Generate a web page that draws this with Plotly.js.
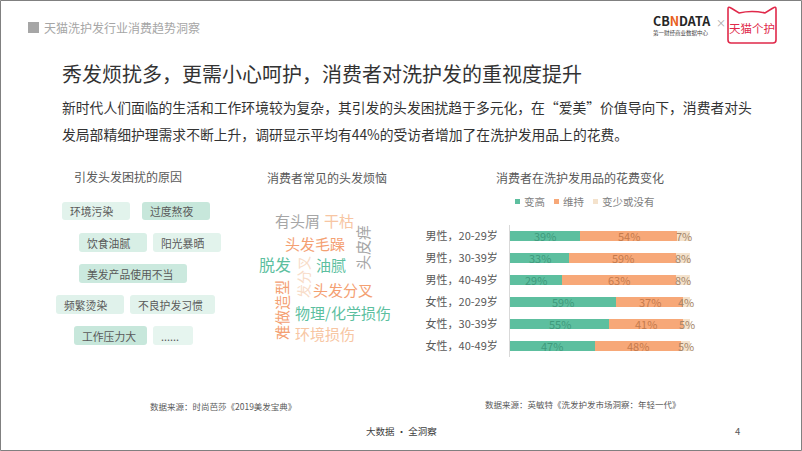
<!DOCTYPE html>
<html>
<head>
<meta charset="utf-8">
<script src="https://cdn.plot.ly/plotly-3.0.1.min.js"></script>
<style>html,body{margin:0;padding:0;background:#fff;}#chart{width:802px;height:451px;}</style>
</head>
<body>
<div id="chart"></div>
<script>
// ---- data ----
const categories = ['男性，20-29岁','男性，30-39岁','男性，40-49岁','女性，20-29岁','女性，30-39岁','女性，40-49岁'];
const seriesNames = ['变高','维持','变少或没有'];
const higher   = [39, 33, 29, 59, 55, 47];
const same     = [54, 59, 63, 37, 41, 48];
const lowerNone= [7, 8, 8, 4, 5, 5];

const reasonTags = ['环境污染','过度熬夜','饮食油腻','阳光暴晒','美发产品使用不当','频繁烫染','不良护发习惯','工作压力大','......'];
const troubleWords = ['有头屑','干枯','头发毛躁','脱发','油腻','头皮痒','发分叉','头发分叉','难做造型','物理/化学损伤','环境损伤'];

// ---- styling ----
const W = 802, H = 451;
const FONT = '"Noto Sans CJK SC","Microsoft YaHei",sans-serif';
const seriesColors = ['#5dbf9f', '#f7a878', '#f4e2cc'];
const labelColors = ['#3f9a7c', '#c47a4c', '#a58669'];
const px = x => x / W;
const py = y => 1 - y / H;

const traces = [higher, same, lowerNone].map((vals, i) => ({
  type: 'bar', orientation: 'h', name: seriesNames[i],
  x: vals, y: categories,
  marker: {color: seriesColors[i], line: {width: 0}},
  hoverinfo: 'none', showlegend: false
}));

const annotations = [];
const shapes = [];

// bar value labels
categories.forEach((c, r) => {
  let cum = 0;
  [higher, same, lowerNone].forEach((vals, i) => {
    const v = vals[r];
    annotations.push({x: cum + v / 2, y: c, xref: 'x', yref: 'y', text: v + '%', showarrow: false,
      font: {family: FONT, size: 11, color: labelColors[i]}});
    cum += v;
  });
});

function txt(x, y, text, size, color, opts) {
  annotations.push(Object.assign({x: px(x), y: py(y), xref: 'paper', yref: 'paper', text: text,
    showarrow: false, xanchor: 'left', yanchor: 'middle',
    font: {family: FONT, size: size, color: color}}, opts || {}));
}
function rrect(x0, y0, x1, y1, r, fill, line) {
  const X = px, Y = py;
  const p = `M${X(x0 + r)},${Y(y0)} L${X(x1 - r)},${Y(y0)} Q${X(x1)},${Y(y0)} ${X(x1)},${Y(y0 + r)} ` +
    `L${X(x1)},${Y(y1 - r)} Q${X(x1)},${Y(y1)} ${X(x1 - r)},${Y(y1)} L${X(x0 + r)},${Y(y1)} ` +
    `Q${X(x0)},${Y(y1)} ${X(x0)},${Y(y1 - r)} L${X(x0)},${Y(y0 + r)} Q${X(x0)},${Y(y0)} ${X(x0 + r)},${Y(y0)} Z`;
  shapes.push({type: 'path', xref: 'paper', yref: 'paper', path: p, fillcolor: fill,
    line: line ? line : {width: 0}, layer: 'below'});
}

// page border
shapes.push({type: 'rect', xref: 'paper', yref: 'paper', x0: px(0.5), x1: px(801.5), y0: py(0.5), y1: py(450.5),
  line: {color: '#808080', width: 1}, fillcolor: 'rgba(0,0,0,0)'});

// header
shapes.push({type: 'rect', xref: 'paper', yref: 'paper', x0: px(28), x1: px(39), y0: py(22), y1: py(33),
  fillcolor: '#a6a6a6', line: {width: 0}});
txt(42, 27.5, '天猫洗护发行业消费趋势洞察', 12, '#a6a6a6');

// logos
txt(651, 20.5, '<b>CB<span style="color:#e8601c">N</span>DATA</b>', 12.5, '#262626');
txt(651, 33.5, '第一财经商业数据中心', 5.5, '#404040');
txt(714, 22, '×', 10, '#a6a6a6');
(function () {
  const X = px, Y = py;
  const p = `M${X(728)},${Y(40)} L${X(728)},${Y(9)} Q${X(728)},${Y(6)} ${X(731)},${Y(8)} L${X(739)},${Y(13)} ` +
    `Q${X(752)},${Y(10)} ${X(765)},${Y(13)} L${X(773)},${Y(8)} Q${X(776)},${Y(6)} ${X(776)},${Y(9)} ` +
    `L${X(776)},${Y(40)} Q${X(776)},${Y(43)} ${X(773)},${Y(43)} L${X(731)},${Y(43)} Q${X(728)},${Y(43)} ${X(728)},${Y(40)} Z`;
  shapes.push({type: 'path', xref: 'paper', yref: 'paper', path: p, fillcolor: 'rgba(0,0,0,0)',
    line: {color: '#e0294a', width: 1.6}});
})();
txt(752, 28, '天猫个护', 11.5, '#e0294a', {xanchor: 'center'});

// main title and paragraph
txt(60, 73, '秀发烦扰多，更需小心呵护，消费者对洗护发的重视度提升', 20, '#333333');
txt(60, 107, '新时代人们面临的生活和工作环境较为复杂，其引发的头发困扰趋于多元化，在“爱美”价值导向下，消费者对头', 13.8, '#333333');
txt(60, 134, '发局部精细护理需求不断上升，调研显示平均有44%的受访者增加了在洗护发用品上的花费。', 13.8, '#333333');

// left panel: reasons
txt(72, 176, '引发头发困扰的原因', 12, '#595959');
const tagBoxes = [
  [62, 202, 130, 220, '#e2f3ec'], [142, 202, 210, 220, '#c7e7db'],
  [79, 233, 147, 252, '#d8efe6'], [153, 233, 221, 252, '#e2f3ec'],
  [79, 264, 187, 283, '#cbe9de'],
  [56, 295, 124, 314, '#e0f2eb'], [130, 295, 215, 314, '#e2f3ec'],
  [74, 326, 147, 345, '#c7e7db'], [153, 326, 193, 345, '#e6f5ef']
];
reasonTags.forEach((t, i) => {
  const b = tagBoxes[i];
  rrect(b[0], b[1], b[2], b[3], 3, b[4]);
  txt(b[0] + 6, (b[1] + b[3]) / 2, t, 10.8, '#595959');
});

// middle panel: word cloud
txt(265, 177, '消费者常见的头发烦恼', 12, '#595959');
const wordStyle = [
  [297, 220, 15, '#a6a6a6', 0], [339, 220, 15, '#f7c6a3', 0], [315, 243, 15, '#f4a072', 0],
  [275, 264, 16, '#5dbf9f', 0], [331, 264, 15, '#5dbf9f', 0], [362, 248, 15, '#a6a6a6', -90],
  [303, 277, 14, '#f8dcc8', -90], [343, 289, 15, '#f4a072', 0], [281, 310, 15, '#f4a072', -90],
  [343, 312, 15, '#5dbf9f', 0], [325, 333, 15, '#f7c6a3', 0]
];
troubleWords.forEach((w, i) => {
  const s = wordStyle[i];
  txt(s[0], s[1], w, s[2], s[3], {xanchor: 'center', textangle: s[4]});
});

// right panel: chart title + legend
txt(580, 177, '消费者在洗护发用品的花费变化', 12, '#595959', {xanchor: 'center'});
const legendX = [515, 554, 593];
seriesNames.forEach((n, i) => {
  const x0 = legendX[i];
  shapes.push({type: 'rect', xref: 'paper', yref: 'paper', x0: px(x0), x1: px(x0 + 5), y0: py(199), y1: py(204),
    fillcolor: seriesColors[i], line: {width: 0}});
  txt(x0 + 7, 201.5, n, 10.5, '#7f7f7f');
});

// sources & footer
txt(148, 406, '数据来源：时尚芭莎《2019美发宝典》', 8.5, '#595959');
txt(483, 404, '数据来源：英敏特《洗发护发市场洞察：年轻一代》', 8.5, '#595959');
txt(401, 431, '大数据 · 全洞察', 9.5, '#404040', {xanchor: 'center'});
txt(737, 431, '4', 9.5, '#595959', {xanchor: 'center'});

const layout = {
  width: W, height: H,
  margin: {l: 0, r: 0, t: 0, b: 0},
  paper_bgcolor: '#ffffff', plot_bgcolor: 'rgba(0,0,0,0)',
  barmode: 'stack', bargap: 0.53,
  showlegend: false,
  font: {family: FONT},
  xaxis: {domain: [px(510), px(690)], range: [0, 100], visible: false, fixedrange: true},
  yaxis: {domain: [py(356.7), py(225)], type: 'category', autorange: 'reversed',
    showline: true, linecolor: '#d9d9d9', linewidth: 1, showgrid: false, zeroline: false,
    ticks: '', ticklabelstandoff: 9,
    tickfont: {family: FONT, size: 11, color: '#595959'}, fixedrange: true},
  annotations: annotations,
  shapes: shapes
};

Plotly.newPlot('chart', traces, layout, {displayModeBar: false, staticPlot: true});
</script>
</body>
</html>
